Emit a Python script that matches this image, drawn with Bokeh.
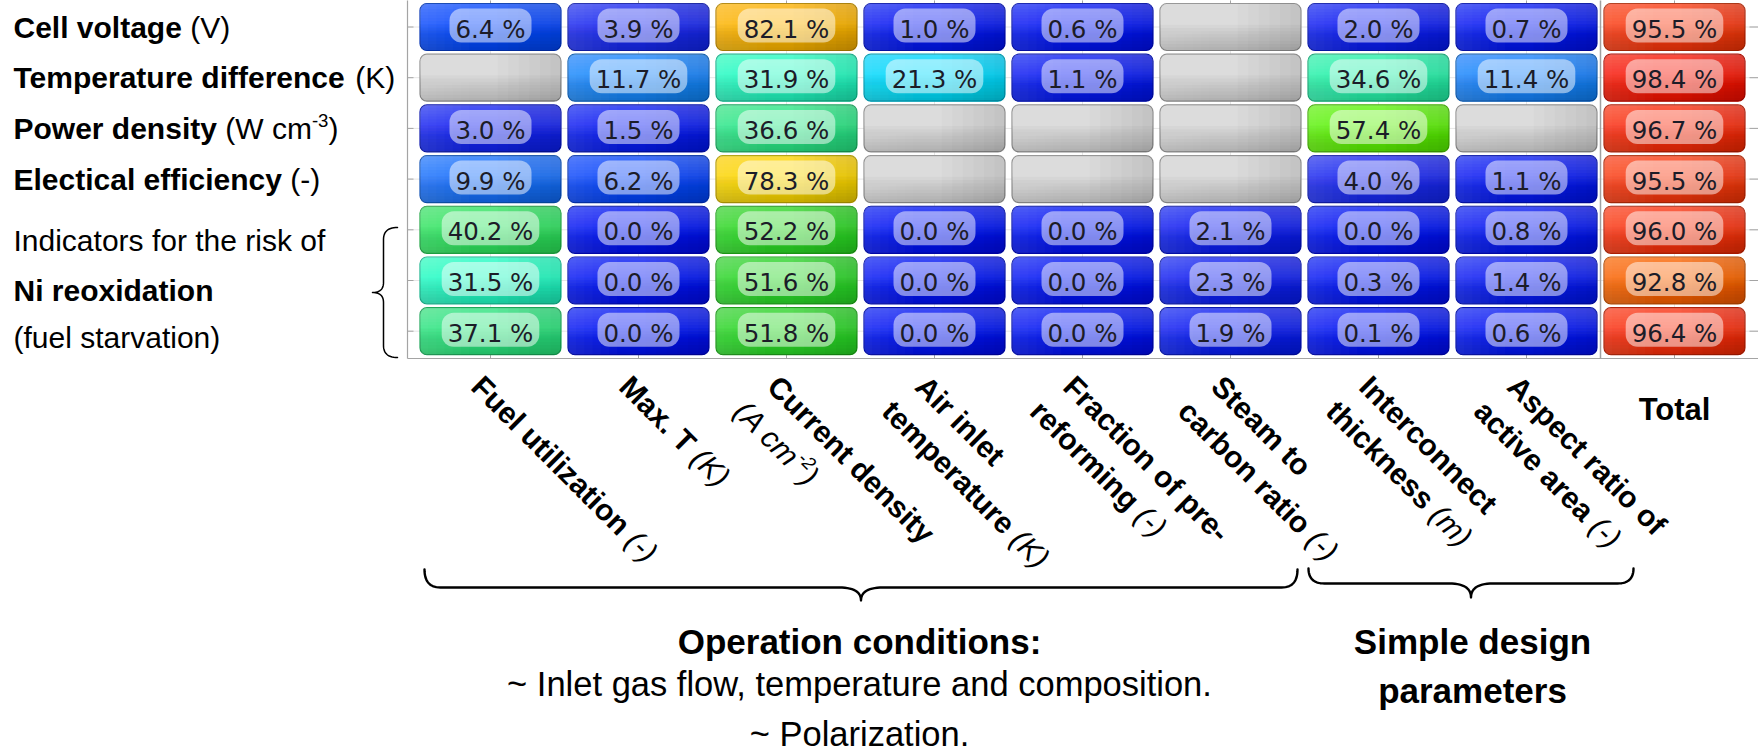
import math
import re
from bokeh.plotting import figure
from bokeh.models import Range1d, ColumnDataSource
from bokeh.core.properties import value
from bokeh.embed import file_html
from bokeh.resources import INLINE

# ------------------------------------------------------------------ data
parameters = ["Fuel utilization", "Max. T", "Current density", "Air inlet temperature",
              "Fraction of pre-reforming", "Steam to carbon ratio",
              "Interconnect thickness", "Aspect ratio of active area", "Total"]
# first / second (bold) line of each rotated column label and its unit
param_line1 = ["Fuel utilization", "Max. T", "Current density", "Air inlet",
               "Fraction of pre-", "Steam to", "Interconnect", "Aspect ratio of"]
param_line2 = [None, None, "", "temperature", "reforming", "carbon ratio",
               "thickness", "active area"]
param_units = ["(-)", "(K)", "(A cm^{-2})", "(K)", "(-)", "(-)", "(m)", "(-)"]

output_names = ["Cell voltage", "Temperature difference", "Power density",
                "Electical efficiency"]
output_units = ["(V)", "(K)", "(W cm^{-3})", "(-)"]
indicator_lines = ["Indicators for the risk of", "Ni reoxidation", "(fuel starvation)"]

# sensitivity shares (%) per output row, columns in order of `parameters`
cell_voltage = [6.4, 3.9, 82.1, 1.0, 0.6, None, 2.0, 0.7, 95.5]
temperature_difference = [None, 11.7, 31.9, 21.3, 1.1, None, 34.6, 11.4, 98.4]
power_density = [3.0, 1.5, 36.6, None, None, None, 57.4, None, 96.7]
electrical_efficiency = [9.9, 6.2, 78.3, None, None, None, 4.0, 1.1, 95.5]
ni_reoxidation_1 = [40.2, 0.0, 52.2, 0.0, 0.0, 2.1, 0.0, 0.8, 96.0]
ni_reoxidation_2 = [31.5, 0.0, 51.6, 0.0, 0.0, 2.3, 0.3, 1.4, 92.8]
ni_reoxidation_3 = [37.1, 0.0, 51.8, 0.0, 0.0, 1.9, 0.1, 0.6, 96.4]
table = [cell_voltage, temperature_difference, power_density, electrical_efficiency,
         ni_reoxidation_1, ni_reoxidation_2, ni_reoxidation_3]

group_titles = ["Operation conditions:", "Simple design"]
group_sub = ["~ Inlet gas flow, temperature and composition.", "~ Polarization."]
group_sub2 = "parameters"

# ------------------------------------------------------------------ layout
FIG_W, FIG_H = 1758, 756
XS = 148.0      # px per column
YS = 50.7       # px per row
COL0_PX = 490.0
ROW0_PX = 26.5


def DX(px):   # canvas pixel -> data x (annotation placement only)
    return (px - COL0_PX) / XS


def DY(py):   # canvas pixel -> data y (y grows downwards)
    return (py - ROW0_PX) / YS


X0, XE = DX(407), DX(1760)     # heat-map frame
YT, YB = DY(-2), DY(358)

AR = dict(zip("abcdefghijklmnopqrstuvwxyz",
              [556, 556, 500, 556, 556, 278, 556, 556, 222, 222, 500, 222, 833, 556, 556,
               556, 556, 333, 500, 278, 556, 500, 722, 500, 500, 500]))
AR.update(dict(zip("ABCDEFGHIJKLMNOPQRSTUVWXYZ",
                   [667, 667, 722, 722, 667, 611, 778, 722, 278, 500, 667, 556, 833, 722, 778,
                    667, 778, 722, 667, 611, 722, 667, 944, 667, 667, 611])))
AR.update({" ": 278, "(": 333, ")": 333, "-": 333, ".": 278, ",": 278, ":": 278, "~": 584})
AB = dict(zip("abcdefghijklmnopqrstuvwxyz",
              [556, 611, 556, 611, 556, 333, 611, 611, 278, 278, 556, 278, 889, 611, 611,
               611, 611, 389, 556, 333, 611, 556, 778, 556, 556, 500]))
AB.update(dict(zip("ABCDEFGHIJKLMNOPQRSTUVWXYZ",
                   [722, 722, 722, 722, 667, 611, 778, 722, 278, 556, 722, 611, 833, 722, 778,
                    667, 778, 722, 667, 611, 722, 667, 944, 667, 667, 611])))
AB.update({" ": 278, "(": 333, ")": 333, "-": 333, ".": 278, ",": 278, ":": 333})
DJ = {" ": 318, ".": 318, "%": 950}


def tw(s, size, bold=False):
    t = AB if bold else AR
    return sum(t.get(c, 556) for c in s) * size / 1000.0


def vw(s, size):
    return sum(DJ.get(c, 636) for c in s) * size / 1000.0


STOPS = [(0, (4, 22, 245)), (4, (28, 42, 242)), (6.4, (8, 74, 252)), (10, (25, 115, 252)),
         (12, (25, 140, 252)), (21.3, (0, 222, 252)), (31.5, (35, 252, 198)),
         (35, (40, 242, 168)), (37, (45, 232, 128)), (40, (50, 232, 100)),
         (52, (45, 220, 40)), (57.4, (95, 244, 10)), (70, (205, 234, 0)),
         (78.3, (252, 216, 0)), (82.1, (252, 182, 0)), (92.8, (250, 100, 0)),
         (95.5, (250, 60, 18)), (97, (250, 42, 14)), (98.4, (248, 24, 8)), (100, (240, 10, 0))]


def cmap(v):
    for (a, ca), (b, cb) in zip(STOPS[:-1], STOPS[1:]):
        if a <= v <= b:
            t = (v - a) / (b - a)
            return tuple(int(round(ca[k] + (cb[k] - ca[k]) * t)) for k in range(3))
    return STOPS[-1][1]


def hexc(c):
    return "#%02x%02x%02x" % c


def darker(c, f=0.72):
    return tuple(int(x * f) for x in c)


# ------------------------------------------------------------------ figure (frame = whole canvas)
p = figure(width=FIG_W, height=FIG_H,
           x_range=Range1d(DX(0), DX(FIG_W)), y_range=Range1d(DY(FIG_H), DY(0)),
           output_backend="svg", toolbar_location=None,
           x_axis_location=None, y_axis_location=None,
           min_border=0, min_border_left=0, min_border_right=0,
           min_border_top=0, min_border_bottom=0)
p.outline_line_color = None
p.grid.visible = False
p.background_fill_color = "white"
p.border_fill_color = "white"

ncol, nrow = len(parameters), len(table)
cols = list(range(ncol))
rows = list(range(nrow))
GRID = "#e6e6e6"
AXC = "#a4a4a4"
# faint grid through the cell centres
p.segment(x0=[X0] * nrow, x1=[XE] * nrow, y0=rows, y1=rows, line_color=GRID, line_width=1)
p.segment(x0=cols, x1=cols, y0=[YT] * ncol, y1=[YB] * ncol, line_color=GRID, line_width=1)
# frame lines and inward ticks
p.segment(x0=[X0, X0], x1=[X0, XE], y0=[YT, YB], y1=[YB, YB], line_color=AXC, line_width=1.2)
p.segment(x0=[X0] * nrow, x1=[X0 + 6 / XS] * nrow, y0=rows, y1=rows, line_color=AXC)
p.segment(x0=[DX(1749)] * nrow, x1=[XE] * nrow, y0=rows, y1=rows, line_color=AXC)
p.segment(x0=cols, x1=cols, y0=[YB] * ncol, y1=[YB - 6 / YS] * ncol, line_color=AXC)
p.segment(x0=cols, x1=cols, y0=[YT] * ncol, y1=[YT + 5 / YS] * ncol, line_color=AXC)
# separator before "Total"
p.segment(x0=[ncol - 1.5], x1=[ncol - 1.5], y0=[YT], y1=[YB], line_color="#a0a0a0",
          line_width=1.5)

# ------------------------------------------------------------------ cells
CW = 141 / XS
CH = 47 / YS
cells = dict(l=[], r=[], t=[], b=[], fill=[], line=[])
pills = dict(l=[], r=[], t=[], b=[])
texts = dict(x=[], y=[], s=[])
for i, row in enumerate(table):
    for j, v in enumerate(row):
        cells["l"].append(j - CW / 2)
        cells["r"].append(j + CW / 2)
        cells["t"].append(i - CH / 2)
        cells["b"].append(i + CH / 2)
        if v is None:
            cells["fill"].append("#dadada")
            cells["line"].append("#8e8e8e")
            continue
        c = cmap(v)
        cells["fill"].append(hexc(c))
        cells["line"].append(hexc(darker(c)))
        s = "%.1f %%" % v
        texts["x"].append(j)
        texts["y"].append(i)
        texts["s"].append(s)
        pw = (vw(s, 24.5) + 12) / XS
        ph = 34 / YS
        yc = i - 1.5 / YS
        pills["l"].append(j - pw / 2)
        pills["r"].append(j + pw / 2)
        pills["t"].append(yc - ph / 2)
        pills["b"].append(yc + ph / 2)

p.quad(left="l", right="r", top="t", bottom="b", source=ColumnDataSource(cells),
       fill_color="fill", line_color="line", line_width=1.2, border_radius=7)


def bands(n, reach, side, color, alpha, radius):
    for m in range(1, n + 1):
        f = reach * m / n
        d = dict(l=list(cells["l"]), r=list(cells["r"]), t=list(cells["t"]), b=list(cells["b"]))
        for k in range(len(d["l"])):
            if side == "top":
                d["b"][k] = d["t"][k] + CH * f
            elif side == "bottom":
                d["t"][k] = d["b"][k] - CH * f
            elif side == "left":
                d["r"][k] = d["l"][k] + CW * f
            else:
                d["l"][k] = d["r"][k] - CW * f
        p.quad(left="l", right="r", top="t", bottom="b", source=ColumnDataSource(d),
               fill_color=color, fill_alpha=alpha, line_color=None, border_radius=radius)


# soft gloss: light upper-left, shaded lower-right
bands(10, 0.62, "top", "white", 0.028, (7, 7, 0, 0))
bands(8, 0.55, "bottom", "black", 0.022, (0, 0, 7, 7))
bands(6, 0.35, "left", "white", 0.02, (7, 0, 0, 7))
bands(6, 0.45, "right", "black", 0.016, (0, 7, 7, 0))

p.quad(left="l", right="r", top="t", bottom="b", source=ColumnDataSource(pills),
       fill_color="white", fill_alpha=0.5, line_color=None, border_radius=12)
p.text(x="x", y="y", text="s", source=ColumnDataSource(texts),
       text_font=value("DejaVu Sans"), text_font_size=value("24.5px"), text_color="#1c1c28",
       text_align="center", text_baseline="middle", y_offset=2)

# ------------------------------------------------------------------ text helpers
FONT = "Liberation Sans"


def parse_unit(u):
    segs = []
    for part in re.split(r"(\^\{[^}]*\})", u):
        if not part:
            continue
        if part.startswith("^{"):
            segs.append((part[2:-1], "sup"))
        else:
            segs.append((part, "norm"))
    return segs


def put(x, y, text, size, style="normal", angle=0.0, align="left", baseline="middle"):
    p.text(x=[x], y=[y], text=[text], angle=angle, angle_units="deg",
           text_font=value(FONT), text_font_size=value("%.1fpx" % size),
           text_font_style=value(style), text_color="black",
           text_align=align, text_baseline=baseline)


def run(x, y, segs, angle=0.0, ox=0.0, oy=0.0, baseline="middle"):
    """segments placed one after the other; ox/oy are screen px (right, down)."""
    a = math.radians(angle)
    dx, dy = math.cos(a), -math.sin(a)       # advance direction (screen, y down)
    nx, ny = -math.sin(a), -math.cos(a)      # text "up" direction (screen, y down)
    adv = 0.0
    for text, style, size, rise in segs:
        bold = style.startswith("bold")
        body = text.lstrip(" ")
        adv += (len(text) - len(body)) * tw(" ", size, bold)
        sx = ox + adv * dx + rise * nx
        sy = oy + adv * dy + rise * ny
        put(x + sx / XS, y + sy / YS, body, size, style, angle, "left", baseline)
        adv += tw(body, size, bold)


def unit_segs(u, size, style, sup_rise):
    out = []
    for t, kind in parse_unit(u):
        if kind == "sup":
            out.append((t, style, size * 0.62, sup_rise))
        else:
            out.append((t, style, size, 0))
    return out


# row labels
for i, (name, unit) in enumerate(zip(output_names, output_units)):
    run(DX(13), i, [(name, "bold", 30, 0)] + unit_segs(" " + unit, 30, "normal", 8))

ind_y = [240, 290, 337]
ind_style = ["normal", "bold", "normal"]
for t, py, st in zip(indicator_lines, ind_y, ind_style):
    run(DX(13), DY(py), [(t, st, 30, 0)])

# rotated column labels
SZ = 30
c45 = math.sqrt(0.5)
for j, l1 in enumerate(param_line1):
    x, y = j, DY(369)
    ox, oy = -2.0, 0.0
    unit = unit_segs(" " + param_units[j], SZ, "italic", -1)
    l2 = param_line2[j]
    if l2 is None:
        run(x, y, [(l1, "bold", SZ, 0)] + unit, angle=-45, ox=ox, oy=oy, baseline="top")
    else:
        run(x, y, [(l1, "bold", SZ, 0)], angle=-45, ox=ox, oy=oy, baseline="top")
        L, s = 41.0, 6.0
        ox2 = ox - L * c45 - s * c45
        oy2 = oy + L * c45 - s * c45
        if l2 == "":
            run(x, y, unit_segs(param_units[j], SZ, "italic", -1), angle=-45,
                ox=ox2, oy=oy2, baseline="top")
        else:
            run(x, y, [(l2, "bold", SZ, 0)] + unit, angle=-45, ox=ox2, oy=oy2,
                baseline="top")

put(ncol - 1, DY(409), parameters[-1], 31, "bold", align="center")

# group captions (vertical centres)
put(DX(859), DY(641), group_titles[0], 35, "bold", align="center")
put(DX(859), DY(683), group_sub[0], 34.5, "normal", align="center")
put(DX(859), DY(733), group_sub[1], 34.5, "normal", align="center")
put(DX(1472), DY(641), group_titles[1], 35, "bold", align="center")
put(DX(1472), DY(690), group_sub2, 35, "bold", align="center")


# ------------------------------------------------------------------ braces
def brace(L, h, d, re_, rt, n=14):
    pts = []

    def qb(p0, c, p1):
        for k in range(n + 1):
            t = k / n
            pts.append(((1 - t) ** 2 * p0[0] + 2 * (1 - t) * t * c[0] + t * t * p1[0],
                        (1 - t) ** 2 * p0[1] + 2 * (1 - t) * t * c[1] + t * t * p1[1]))
    m = L / 2.0
    qb((0, -h), (0, 0), (re_, 0))
    qb((m - rt, 0), (m, 0), (m, d))
    qb((m, d), (m, 0), (m + rt, 0))
    qb((L - re_, 0), (L, 0), (L, -h))
    return pts


def add_brace(page_pts, width):
    p.line(x=[DX(a) for a, b in page_pts], y=[DY(b) for a, b in page_pts],
           line_color="black", line_width=width, line_join="round", line_cap="round")


add_brace([(424 + u, 587 + v) for u, v in brace(873, 18, 13, 16, 22)], 2.4)
add_brace([(1308 + u, 583 + v) for u, v in brace(325, 15, 14, 16, 22)], 2.4)
add_brace([(383 - v, 227 + u) for u, v in brace(130, 14, 11, 12, 10)], 1.5)

open("out.html", "w").write(file_html(p, INLINE))
